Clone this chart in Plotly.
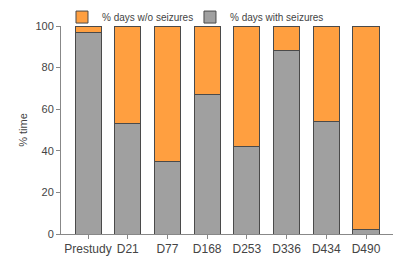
import plotly.graph_objects as go

categories = ["Prestudy", "D21", "D77", "D168", "D253", "D336", "D434", "D490"]
with_seizures = [97, 53, 35, 67, 42, 88, 54, 2]
without_seizures = [100 - v for v in with_seizures]
y_ticks = [0, 20, 40, 60, 80, 100]

GRAY = "#A0A0A0"
ORANGE = "#FF9F40"
EDGE = "#4a4a4a"
FONT = "Liberation Sans"

fig = go.Figure()
fig.add_trace(go.Bar(x=categories, y=with_seizures, name="% days with seizures",
                     marker=dict(color=GRAY, line=dict(color=EDGE, width=1)), width=0.655,
                     legend="legend2"))
fig.add_trace(go.Bar(x=categories, y=without_seizures, name="% days w/o seizures",
                     marker=dict(color=ORANGE, line=dict(color=EDGE, width=1)), width=0.655,
                     legend="legend"))

leg_common = dict(orientation="h", xanchor="left", y=1.043, yanchor="middle",
                  font=dict(size=10, color="#444"), itemwidth=30,
                  bgcolor="rgba(0,0,0,0)")

fig.update_layout(
    barmode="stack",
    width=400, height=267,
    margin=dict(l=61, r=7, t=26, b=33, autoexpand=False),
    paper_bgcolor="white", plot_bgcolor="white",
    font=dict(family=FONT, size=10, color="#444"),
    showlegend=True,
    legend=dict(x=0.003, **leg_common),
    legend2=dict(x=0.3885, **leg_common),
    xaxis=dict(range=[-0.68, 7.68], showline=True, linecolor="#888", linewidth=1,
               ticks="outside", ticklen=4, tickcolor="#888", showgrid=False,
               tickfont=dict(size=12, color="#444")),
    yaxis=dict(range=[0, 100], tickvals=y_ticks, showline=True, linecolor="#888", linewidth=1,
               ticks="outside", ticklen=4, tickcolor="#888", showgrid=False, zeroline=False,
               title=dict(text="% time", font=dict(size=11, color="#444"), standoff=5),
               tickfont=dict(size=11, color="#444")),
)

fig.write_html("out.html")
